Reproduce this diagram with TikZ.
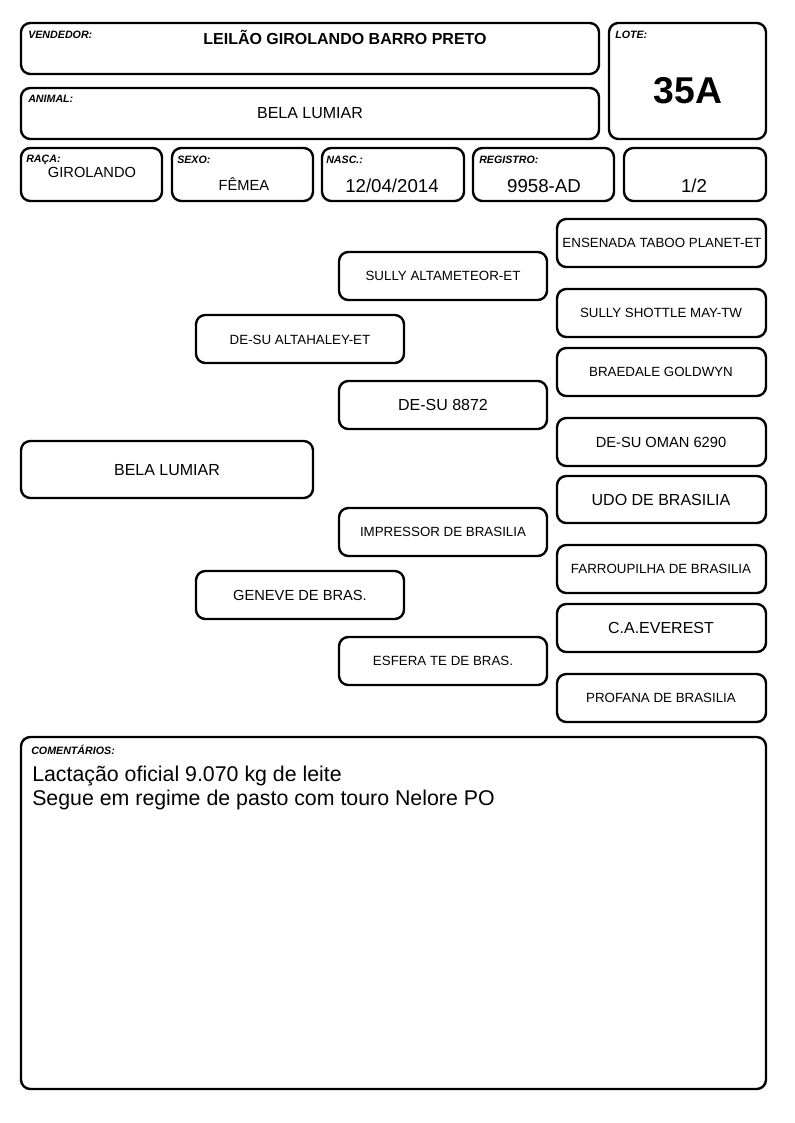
\documentclass[tikz,border=0pt]{standalone}
\usepackage{fontspec}
\setmainfont{Liberation Sans}
\usepackage{tikz}

\tikzset{
  box/.style={line width=1.8pt, rounded corners=7pt},
  fieldlabel/.style={anchor=north west, inner sep=0pt, font=\fontsize{8}{9}\selectfont\bfseries\itshape},
  fieldvalue/.style={inner sep=0pt, font=\fontsize{14}{16}\selectfont},
  pedsmall/.style={inner sep=0pt, font=\fontsize{10}{12}\selectfont},
  pedmid/.style={inner sep=0pt, font=\fontsize{11}{13}\selectfont},
  pedbig/.style={inner sep=0pt, font=\fontsize{12}{14}\selectfont}
}

\begin{document}
\begin{tikzpicture}[x=0.75pt, y=-0.75pt]
  \useasboundingbox (0,0) rectangle (794,1123);

  % Header boxes
  \draw [box] (21,23) rectangle (599,74);
  \draw [box] (609,23) rectangle (766,139);
  \draw [box] (21,88) rectangle (599,139);
  \draw [box] (21,148) rectangle (162,201);
  \draw [box] (172,148) rectangle (313,201);
  \draw [box] (322,148) rectangle (464,201);
  \draw [box] (473,148) rectangle (614,201);
  \draw [box] (624,148) rectangle (766,201);

  % Header labels
  \node [fieldlabel] (lblvendedor) at (28,31) {VENDEDOR:};
  \node [fieldlabel] (lbllote) at (615,31) {LOTE:};
  \node [fieldlabel] (lblanimal) at (28,95) {ANIMAL:};
  \node [fieldlabel] (lblraca) at (26,155) {RAÇA:};
  \node [fieldlabel] (lblsexo) at (177,156) {SEXO:};
  \node [fieldlabel] (lblnasc) at (326,156) {NASC.:};
  \node [fieldlabel] (lblregistro) at (479,156) {REGISTRO:};

  % Header values
  \node [inner sep=0pt, font=\fontsize{12}{14}\selectfont\bfseries] (vendedor) at (345,37) {LEILÃO GIROLANDO BARRO PRETO};
  \node [inner sep=0pt, font=\fontsize{28}{30}\selectfont\bfseries] (lote) at (688,91) {35A};
  \node [inner sep=0pt, font=\fontsize{12}{14}\selectfont] (animal) at (310,113) {BELA LUMIAR};
  \node [inner sep=0pt, font=\fontsize{11}{13}\selectfont] (raca) at (92,172) {GIROLANDO};
  \node [inner sep=0pt, font=\fontsize{11}{13}\selectfont] (sexo) at (244,184) {FÊMEA};
  \node [fieldvalue] (nasc) at (392,186) {12/04/2014};
  \node [fieldvalue] (registro) at (544,186) {9958-AD};
  \node [fieldvalue] (grau) at (694,186) {1/2};

  % Pedigree: animal, parents, grandparents
  \draw [box] (21,441) rectangle (313,498);
  \node [pedbig] (bela) at (167,470) {BELA LUMIAR};

  \draw [box] (196,315) rectangle (404,363);
  \node [pedsmall] (altahaley) at (300,340) {DE-SU ALTAHALEY-ET};
  \draw [box] (196,571) rectangle (404,619);
  \node [pedmid] (geneve) at (300,595) {GENEVE DE BRAS.};

  \draw [box] (339,252) rectangle (547,300);
  \node [pedsmall] (altameteor) at (443,276) {SULLY ALTAMETEOR-ET};
  \draw [box] (339,381) rectangle (547,429);
  \node [pedbig] (desu) at (443,405) {DE-SU 8872};
  \draw [box] (339,508) rectangle (547,556);
  \node [pedsmall] (impressor) at (443,532) {IMPRESSOR DE BRASILIA};
  \draw [box] (339,637) rectangle (547,685);
  \node [pedsmall] (esfera) at (443,661) {ESFERA TE DE BRAS.};

  % Pedigree: great-grandparents
  \draw [box] (557,219) rectangle (766,267);
  \node [pedsmall] (ensenada) at (662,243) {ENSENADA TABOO PLANET-ET};
  \draw [box] (557,289) rectangle (766,337);
  \node [pedsmall] (shottle) at (661,313) {SULLY SHOTTLE MAY-TW};
  \draw [box] (557,348) rectangle (766,396);
  \node [pedsmall] (braedale) at (661,372) {BRAEDALE GOLDWYN};
  \draw [box] (557,418) rectangle (766,466);
  \node [pedmid] (oman) at (661,442) {DE-SU OMAN 6290};
  \draw [box] (557,476) rectangle (766,523);
  \node [pedbig] (udo) at (661,500) {UDO DE BRASILIA};
  \draw [box] (557,545) rectangle (766,593);
  \node [pedsmall] (farroupilha) at (661,569) {FARROUPILHA DE BRASILIA};
  \draw [box] (557,604) rectangle (766,652);
  \node [pedbig] (everest) at (661,628) {C.A.EVEREST};
  \draw [box] (557,674) rectangle (766,722);
  \node [pedsmall] (profana) at (661,698) {PROFANA DE BRASILIA};

  % Comments
  \draw [box] (21,737) rectangle (766,1089);
  \node [fieldlabel] (lblcomentarios) at (31,745) {COMENTÁRIOS:};
  \node [anchor=north west, inner sep=0pt, align=left, font=\fontsize{16}{18}\selectfont] (comentarios) at (32,766)
    {Lactação oficial 9.070 kg de leite\\Segue em regime de pasto com touro Nelore PO};
\end{tikzpicture}
\end{document}
